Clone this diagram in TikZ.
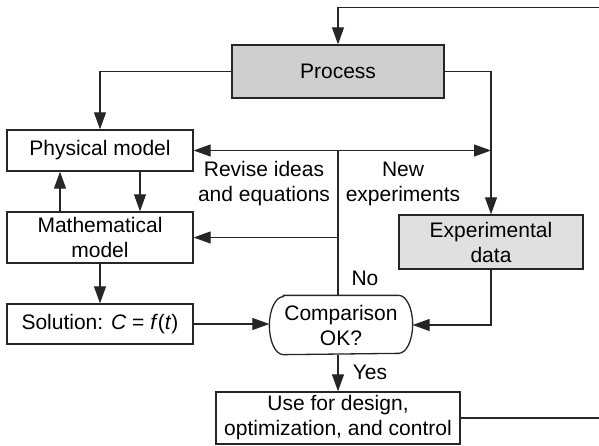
\documentclass[tikz,border=0pt]{standalone}
\usepackage{fontspec}
\setmainfont{Liberation Sans}
\usetikzlibrary{arrows.meta}

\begin{document}
\begin{tikzpicture}[x=0.5pt, y=-0.5pt,
    font=\fontsize{10.5}{12.5}\selectfont,
    line width=0.55pt, draw=black!85,
    >={Triangle[length=8.5pt,width=6pt]},
    box/.style={draw, line width=0.65pt, align=center, inner sep=0pt},
    greybox/.style={box, fill=black!19},
    lbl/.style={align=center, inner sep=0pt}]
  \useasboundingbox (0,0) rectangle (599,445);

  % boxes
  \node[greybox, minimum width=106pt, minimum height=26.5pt] (process) at (338,71.5) {Process};
  \node[box, minimum width=93pt, minimum height=20.5pt] (phys) at (100,150.5) {Physical model};
  \node[box, minimum width=93pt, minimum height=25.5pt] (math) at (100,237.5) {Mathematical\\model};
  \node[box, minimum width=93pt, minimum height=20pt] (sol) at (100,324)
    {Solution: \textit{C} = \textit{f}(\textit{t})};
  \node[greybox, fill=black!12, minimum width=92pt, minimum height=27pt] (exp) at (491,242)
    {Experimental\\data};
  \node[box, minimum width=122pt, minimum height=26pt] (use) at (338,418)
    {Use for design,\\optimization, and control};
  \node[box, draw=none, minimum width=71pt, minimum height=29pt] (comp) at (341,325)
    {Comparison\\OK?};
  % test box: flat top and bottom, elliptic ends
  \draw[line width=0.65pt] ([xshift=7pt]comp.north west) -- ([xshift=-7pt]comp.north east)
    arc[start angle=90, end angle=-90, x radius=7pt, y radius=14.5pt]
    -- ([xshift=7pt]comp.south west)
    arc[start angle=-90, end angle=-270, x radius=7pt, y radius=14.5pt] -- cycle;

  % labels
  \node[lbl] (revise) at (264,184) {Revise ideas\\and equations};
  \node[lbl] (newexp) at (403,184) {New\\experiments};
  \node[lbl] (no) at (365,278) {No};
  \node[lbl] (yes) at (370,372) {Yes};

  % loop coming back from the right edge
  \coordinate (loopin) at (599,7.5);
  \coordinate (loopout) at (599,418);

  \draw[->] (loopin) -| (process.north);
  \draw[->] (process.west) -| (phys.north);
  \draw[->] (process.east) -| (exp.north);
  \draw[<->] (phys.east) -- (phys.east -| exp.north);
  \draw (phys.east -| process) -- (comp.north -| process);
  \draw[->] (math.east -| process) -- (math.east);
  \draw[->] ([xshift=-20pt]math.north) -- ([xshift=-20pt]phys.south);
  \draw[->] ([xshift=20pt]phys.south) -- ([xshift=20pt]math.north);
  \draw[->] (math.south) -- (sol.north);
  \draw[->] (sol.east) -- (sol.east -| comp.west);
  \draw[->] (exp.south) |- (comp.east);
  \draw[->] (comp.south -| use) -- (use.north);
  \draw (use.east) -- (loopout);
\end{tikzpicture}
\end{document}
